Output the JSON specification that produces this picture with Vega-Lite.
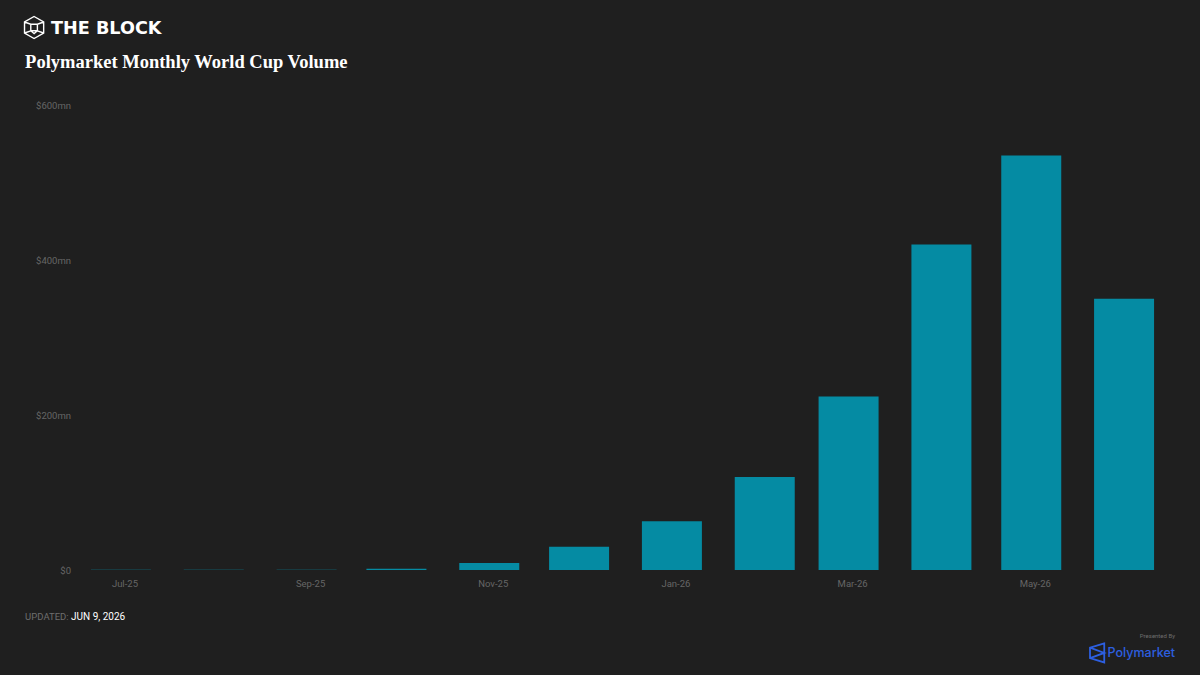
{
  "$schema": "https://vega.github.io/schema/vega-lite/v6.json",
  "width": 1078,
  "height": 465,
  "autosize": "none",
  "padding": {"left": 85, "right": 37, "top": 105, "bottom": 105},
  "background": "#1f1f1f",
  "config": {"view": {"stroke": null}, "font": "Roboto"},
  "encoding": {
    "x": {
      "field": "month",
      "type": "temporal",
      "title": null,
      "scale": {
        "type": "utc",
        "padding": 0,
        "nice": false,
        "domain": [{"year": 2025, "month": 6, "date": 19, "utc": true}, {"year": 2026, "month": 6, "date": 14, "utc": true}]
      },
      "axis": {
        "values": [
          {"year": 2025, "month": 7, "date": 1, "utc": true},
          {"year": 2025, "month": 9, "date": 1, "utc": true},
          {"year": 2025, "month": 11, "date": 1, "utc": true},
          {"year": 2026, "month": 1, "date": 1, "utc": true},
          {"year": 2026, "month": 3, "date": 1, "utc": true},
          {"year": 2026, "month": 5, "date": 1, "utc": true}
        ],
        "format": "%b-%y",
        "domain": false,
        "ticks": false,
        "grid": false,
        "labelColor": "#666666",
        "labelFontSize": 9.5,
        "labelFont": "Roboto",
        "labelPadding": 8,
        "labelOffset": 3.5
      }
    },
    "y": {
      "field": "volume",
      "type": "quantitative",
      "title": null,
      "scale": {"domain": [0, 600], "nice": false},
      "axis": {
        "values": [0, 200, 400, 600],
        "labelExpr": "'$' + datum.value + (datum.value ? 'mn' : '')",
        "domain": false,
        "ticks": false,
        "grid": false,
        "labelColor": "#666666",
        "labelFontSize": 9.5,
        "labelFont": "Roboto",
        "labelPadding": 14.5
      }
    }
  },
  "layer": [
    {
      "data": {
        "values": [
          {"month": "2025-07-01", "volume": 0.4},
          {"month": "2025-08-01", "volume": 0.2},
          {"month": "2025-09-01", "volume": 0.4},
          {"month": "2025-10-01", "volume": 1.5},
          {"month": "2025-11-01", "volume": 9},
          {"month": "2025-12-01", "volume": 30},
          {"month": "2026-01-01", "volume": 63},
          {"month": "2026-02-01", "volume": 120},
          {"month": "2026-03-01", "volume": 224},
          {"month": "2026-04-01", "volume": 420},
          {"month": "2026-05-01", "volume": 535},
          {"month": "2026-06-01", "volume": 350}
        ]
      },
      "mark": {"type": "bar", "size": 60, "color": "#058ba3"}
    },
    {
      "data": {"values": [{"month": "2025-06-02", "volume": 700}]},
      "mark": {
        "type": "point",
        "shape": "M0 -1L.87 -.5L.87 .5L0 1L-.87 .5L-.87 -.5ZM-.87 -.5L-.3 -.3L.3 -.3L.87 -.5M-.3 -.3L-.3 .3L.3 .3L.3 -.3M-.3 .3L-.87 .5M.3 .3L.87 .5M-.3 .3L0 .55L.3 .3",
        "size": 484,
        "filled": false,
        "opacity": 1,
        "strokeWidth": 1.4,
        "color": "#ffffff"
      }
    },
    {
      "data": {"values": [{"month": "2025-06-08", "volume": 698, "label": "THE BLOCK"}]},
      "mark": {"type": "text", "align": "left", "baseline": "middle", "dx": -1, "font": "DejaVu Sans", "fontWeight": 700, "fontSize": 17.6, "color": "#ffffff"},
      "encoding": {"text": {"field": "label"}}
    },
    {
      "data": {"values": [{"month": "2025-05-30", "volume": 655, "label": "Polymarket Monthly World Cup Volume"}]},
      "mark": {"type": "text", "align": "left", "baseline": "middle", "font": "Liberation Serif", "fontWeight": 700, "fontSize": 18.5, "color": "#ffffff"},
      "encoding": {"text": {"field": "label"}}
    },
    {
      "data": {"values": [{"month": "2025-05-30", "volume": -61, "label": "UPDATED:"}]},
      "mark": {"type": "text", "align": "left", "baseline": "middle", "fontSize": 9.5, "color": "#6e6e6e"},
      "encoding": {"text": {"field": "label"}}
    },
    {
      "data": {"values": [{"month": "2025-06-14", "volume": -61, "label": "JUN 9, 2026"}]},
      "mark": {"type": "text", "align": "left", "baseline": "middle", "dx": 1, "fontSize": 10, "color": "#ffffff"},
      "encoding": {"text": {"field": "label"}}
    },
    {
      "data": {"values": [{"month": "2026-06-18", "volume": -85, "label": "Presented By"}]},
      "mark": {"type": "text", "align": "right", "baseline": "middle", "fontSize": 6, "color": "#6e6e6e"},
      "encoding": {"text": {"field": "label"}}
    },
    {
      "data": {"values": [{"month": "2026-05-23", "volume": -107}]},
      "mark": {
        "type": "point",
        "shape": "M.75 -1L-.75 -.55L-.75 .55L.75 1ZM-.75 -.55L.75 0L-.75 .55",
        "size": 361,
        "filled": false,
        "opacity": 1,
        "strokeWidth": 1.8,
        "color": "#2d5fe0"
      }
    },
    {
      "data": {"values": [{"month": "2026-06-18", "volume": -107, "label": "Polymarket"}]},
      "mark": {"type": "text", "align": "right", "baseline": "middle", "font": "Inter", "fontWeight": 500, "fontSize": 12.5, "color": "#2d5fe0"},
      "encoding": {"text": {"field": "label"}}
    }
  ]
}
